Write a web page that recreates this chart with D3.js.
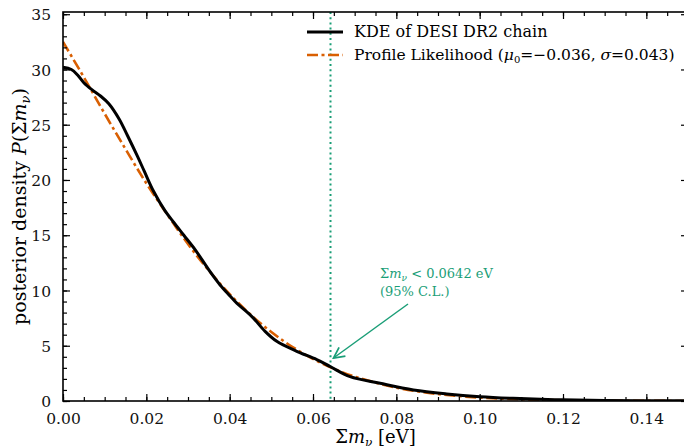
<!DOCTYPE html>
<html>
<head>
<meta charset="utf-8">
<script src="https://cdn.jsdelivr.net/npm/d3@7"></script>
<style>
  body { margin: 0; background: #fff; }
  svg { display: block; }
  text { font-family: "DejaVu Serif", serif; }
</style>
</head>
<body>
<svg id="chart" width="684" height="446"></svg>
<script>
// KDE of the chain
const kdeX = [0, 0.002, 0.0035, 0.005, 0.007, 0.009, 0.011, 0.0135, 0.0155, 0.0178, 0.0195, 0.0217, 0.0245, 0.0265, 0.029, 0.0317, 0.0353, 0.0377, 0.0401, 0.0417, 0.0437, 0.0457, 0.0485, 0.0513, 0.0561, 0.0609, 0.0642, 0.0689, 0.0761, 0.0841, 0.0921, 0.1001, 0.108, 0.118, 0.13, 0.15];
const kdeY = [30.2, 30.0, 29.5, 28.8, 28.15, 27.6, 26.9, 25.5, 24.0, 22.2, 20.8, 19.0, 17.2, 16.2, 15.0, 13.7, 11.7, 10.5, 9.5, 8.85, 8.2, 7.5, 6.3, 5.4, 4.5, 3.75, 3.1, 2.2, 1.6, 1.0, 0.64, 0.39, 0.24, 0.12, 0.05, 0.01];

// profile likelihood curve (dash-dot)
const plX = [0, 0.005, 0.01, 0.015, 0.02, 0.025, 0.03, 0.035, 0.04, 0.045, 0.05, 0.055, 0.06, 0.065, 0.07, 0.08, 0.09, 0.10, 0.11, 0.12, 0.13, 0.14, 0.15];
const plY = [32.5, 29.3, 26.0, 22.8, 19.7, 16.9, 14.2, 11.8, 9.67, 7.82, 6.24, 4.91, 3.81, 2.92, 2.21, 1.21, 0.63, 0.31, 0.145, 0.064, 0.027, 0.011, 0.004];

const limit = 0.0642;
const xTicks = [0, 0.02, 0.04, 0.06, 0.08, 0.10, 0.12, 0.14];
const yTicks = [0, 5, 10, 15, 20, 25, 30, 35];

const green = "#1a9e77";
const orange = "#d95f02";

const svg = d3.select("#chart");
const m = { left: 63, right: 688, top: 12, bottom: 401 };

const x = d3.scaleLinear().domain([0, 0.15]).range([m.left, m.right]);
const y = d3.scaleLinear().domain([0, 35.2]).range([m.bottom, m.top]);

const defs = svg.append("defs");
defs.append("clipPath").attr("id", "clip")
  .append("rect").attr("x", m.left).attr("y", m.top)
  .attr("width", m.right - m.left).attr("height", m.bottom - m.top);
defs.append("marker").attr("id", "arrow")
  .attr("viewBox", "0 0 10 10").attr("refX", 9).attr("refY", 5)
  .attr("markerWidth", 9).attr("markerHeight", 9).attr("orient", "auto")
  .append("path").attr("d", "M1,1 L9,5 L1,9").attr("fill", "none")
  .attr("stroke", green).attr("stroke-width", 1.3);

const plot = svg.append("g").attr("clip-path", "url(#clip)");

// 95% limit
plot.append("line")
  .attr("x1", x(limit)).attr("x2", x(limit))
  .attr("y1", m.top).attr("y2", m.bottom)
  .attr("stroke", green).attr("stroke-width", 2)
  .attr("stroke-dasharray", "2,3.2");

const line = d3.line().curve(d3.curveCatmullRom.alpha(0.5));

plot.append("path")
  .attr("d", line(plX.map((v, i) => [x(v), y(plY[i])])))
  .attr("fill", "none").attr("stroke", orange).attr("stroke-width", 2.6)
  .attr("stroke-dasharray", "11,3.5,3,3.5");

plot.append("path")
  .attr("d", line(kdeX.map((v, i) => [x(v), y(kdeY[i])])))
  .attr("fill", "none").attr("stroke", "#000").attr("stroke-width", 3);

// axes, ticks inward on all four sides
const minorX = d3.range(0, 0.1501, 0.005);
const minorY = d3.range(0, 35.1, 1);

function drawAxis(axisFn, scale, ticks, len, tr, fmt) {
  const g = svg.append("g").attr("transform", tr)
    .call(axisFn(scale).tickValues(ticks).tickSizeInner(-len).tickSizeOuter(0).tickFormat(fmt).tickPadding(len + 5));
  g.attr("font-family", null);
  g.select(".domain").remove();
  g.selectAll("line").attr("stroke", "#000").attr("stroke-width", 1.2);
  g.selectAll("text").attr("font-size", 15.5).attr("fill", "#111");
  return g;
}
drawAxis(d3.axisBottom, x, xTicks, 7, `translate(0,${m.bottom})`, d3.format(".2f"));
drawAxis(d3.axisBottom, x, minorX, 4, `translate(0,${m.bottom})`, () => "");
drawAxis(d3.axisTop, x, xTicks, 7, `translate(0,${m.top})`, () => "");
drawAxis(d3.axisTop, x, minorX, 4, `translate(0,${m.top})`, () => "");
drawAxis(d3.axisLeft, y, yTicks, 7, `translate(${m.left},0)`, d3.format("d"))
  .selectAll("text").attr("dy", "0.36em");
drawAxis(d3.axisLeft, y, minorY, 4, `translate(${m.left},0)`, () => "");
drawAxis(d3.axisRight, y, yTicks, 7, `translate(${m.right},0)`, () => "");
drawAxis(d3.axisRight, y, minorY, 4, `translate(${m.right},0)`, () => "");

svg.append("rect")
  .attr("x", m.left).attr("y", m.top)
  .attr("width", m.right - m.left).attr("height", m.bottom - m.top)
  .attr("fill", "none").attr("stroke", "#000").attr("stroke-width", 1.6);

// axis labels
const xl = svg.append("text").attr("x", (m.left + m.right) / 2).attr("y", 443)
  .attr("text-anchor", "middle").attr("font-size", 18);
xl.append("tspan").text("Σ");
xl.append("tspan").attr("font-style", "italic").text("m");
xl.append("tspan").attr("font-style", "italic").attr("font-size", 12).attr("dy", 4).text("ν");
xl.append("tspan").attr("dy", -4).text(" [eV]");

const yl = svg.append("text")
  .attr("transform", `translate(26,${(m.top + m.bottom) / 2}) rotate(-90)`)
  .attr("text-anchor", "middle").attr("font-size", 19);
yl.append("tspan").text("posterior density ");
yl.append("tspan").attr("font-style", "italic").text("P");
yl.append("tspan").text("(Σ");
yl.append("tspan").attr("font-style", "italic").text("m");
yl.append("tspan").attr("font-style", "italic").attr("font-size", 13).attr("dy", 4).text("ν");
yl.append("tspan").attr("dy", -4).text(")");

// legend
const leg = svg.append("g");
leg.append("line").attr("x1", 307).attr("x2", 343).attr("y1", 32).attr("y2", 32)
  .attr("stroke", "#000").attr("stroke-width", 3);
leg.append("line").attr("x1", 307).attr("x2", 343).attr("y1", 55).attr("y2", 55)
  .attr("stroke", orange).attr("stroke-width", 2.6).attr("stroke-dasharray", "11,3.5,3,3.5");
leg.append("text").attr("x", 354).attr("y", 37).attr("font-size", 16).text("KDE of DESI DR2 chain");
const lt = leg.append("text").attr("x", 354).attr("y", 60).attr("font-size", 15.5);
lt.append("tspan").text("Profile Likelihood (");
lt.append("tspan").attr("font-style", "italic").text("μ");
lt.append("tspan").attr("font-size", 10).attr("dy", 3).text("0");
lt.append("tspan").attr("dy", -3).text("=−0.036, ");
lt.append("tspan").attr("font-style", "italic").text("σ");
lt.append("tspan").text("=0.043)");

// annotation
const an = svg.append("text").attr("x", 380).attr("y", 278).attr("font-size", 13).attr("fill", green);
an.append("tspan").text("Σ");
an.append("tspan").attr("font-style", "italic").text("m");
an.append("tspan").attr("font-style", "italic").attr("font-size", 9).attr("dy", 3).text("ν");
an.append("tspan").attr("dy", -3).text(" < 0.0642 eV");
svg.append("text").attr("x", 380).attr("y", 296).attr("font-size", 13).attr("fill", green).text("(95% C.L.)");

svg.append("line")
  .attr("x1", 408).attr("y1", 304).attr("x2", x(limit) + 3).attr("y2", 358)
  .attr("stroke", green).attr("stroke-width", 1.5).attr("marker-end", "url(#arrow)");
</script>
</body>
</html>
